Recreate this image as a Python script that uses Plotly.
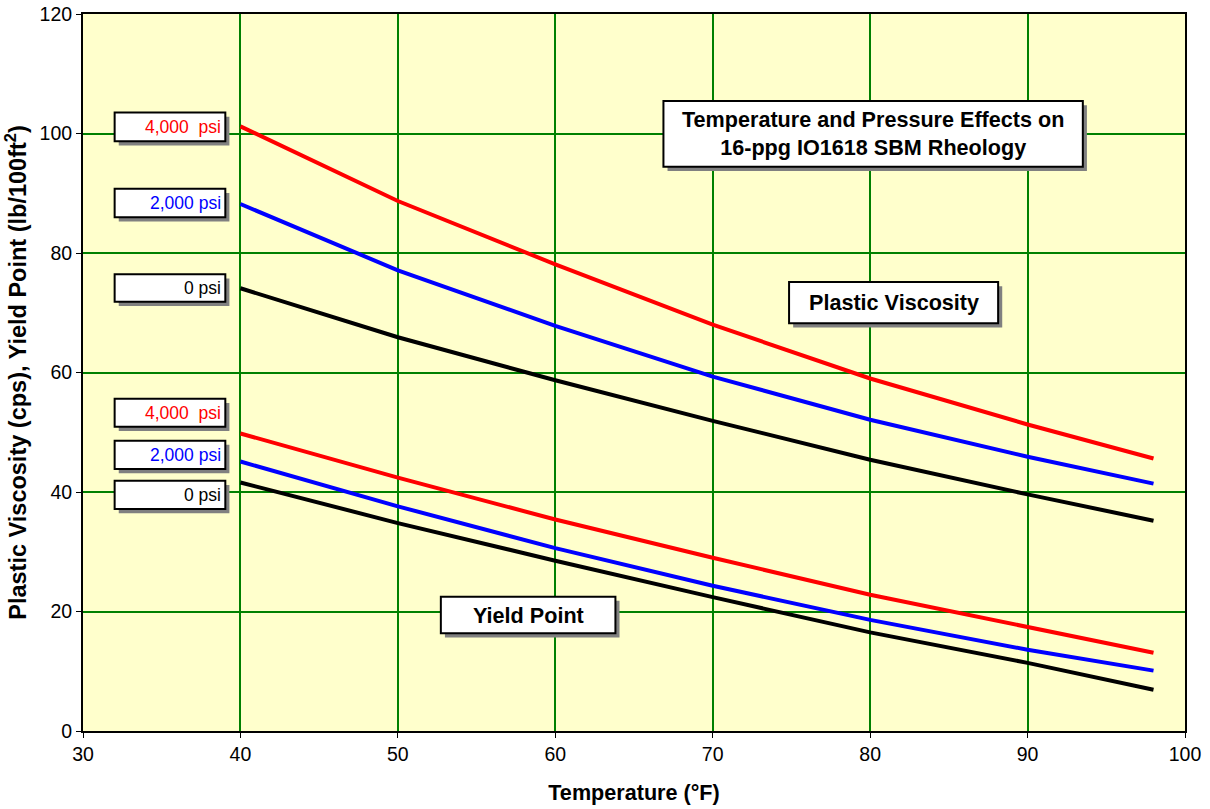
import plotly.graph_objects as go

# Temperature (°F) at which rheology was read
temperature_f = [40, 50, 60, 70, 80, 90, 98]

# Plastic viscosity (cps) at three pressures
pv_0psi = [74.1, 65.9, 58.7, 51.9, 45.4, 39.6, 35.2]
pv_2000psi = [88.2, 77.1, 67.8, 59.3, 52.1, 45.9, 41.4]
pv_4000psi = [101.2, 88.7, 78.1, 68.0, 59.0, 51.3, 45.6]

# Yield point (lb/100ft²) at three pressures
yp_0psi = [41.6, 34.8, 28.5, 22.4, 16.5, 11.4, 6.9]
yp_2000psi = [45.1, 37.6, 30.6, 24.3, 18.6, 13.6, 10.1]
yp_4000psi = [49.8, 42.4, 35.4, 29.0, 22.8, 17.4, 13.1]

x_ticks = [30, 40, 50, 60, 70, 80, 90, 100]
y_ticks = [0, 20, 40, 60, 80, 100, 120]

FONT = "Liberation Sans, Arial, sans-serif"
NB = "\u00a0"

series = [
    ("PV 4,000 psi", pv_4000psi, "#FF0000"),
    ("PV 2,000 psi", pv_2000psi, "#0000FF"),
    ("PV 0 psi", pv_0psi, "#000000"),
    ("YP 4,000 psi", yp_4000psi, "#FF0000"),
    ("YP 2,000 psi", yp_2000psi, "#0000FF"),
    ("YP 0 psi", yp_0psi, "#000000"),
]

fig = go.Figure()
for name, vals, color in series:
    fig.add_trace(go.Scatter(
        x=temperature_f, y=vals, name=name, mode="lines",
        line=dict(color=color, width=4),
        showlegend=False, hoverinfo="x+y+name",
    ))

shapes = []
annotations = []

# Shadowed callout box helper (data coordinates)
SHX, SHY = 0.26, 0.7


def callout(x0, x1, y0, y1, text, color="#000000", size=17.5, bold=False,
            align="right"):
    shapes.append(dict(type="rect", xref="x", yref="y", layer="above",
                       x0=x0 + SHX, x1=x1 + SHX, y0=y0 - SHY, y1=y1 - SHY,
                       fillcolor="#808080", line=dict(width=0)))
    shapes.append(dict(type="rect", xref="x", yref="y", layer="above",
                       x0=x0, x1=x1, y0=y0, y1=y1,
                       fillcolor="#FFFFFF", line=dict(color="#000000", width=2)))
    if align == "right":
        ax, xanchor = x1 - 0.12, "right"
    else:
        ax, xanchor = (x0 + x1) / 2, "center"
    annotations.append(dict(
        x=ax, y=(y0 + y1) / 2, xref="x", yref="y", xanchor=xanchor,
        yanchor="middle", showarrow=False, text=text, align="center",
        font=dict(family=FONT, size=size, color=color,
                  weight="bold" if bold else "normal"),
    ))


# Pressure labels for the plastic viscosity curves
callout(32.01, 39.04, 98.7, 103.5, f"4,000{NB}{NB}psi", "#FF0000")
callout(32.01, 39.04, 85.97, 90.76, "2,000 psi", "#0000FF")
callout(32.01, 39.04, 71.85, 76.43, "0 psi", "#000000")
# Pressure labels for the yield point curves
callout(32.01, 39.04, 50.93, 55.61, f"4,000{NB}{NB}psi", "#FF0000")
callout(32.01, 39.04, 43.85, 48.59, "2,000 psi", "#0000FF")
callout(32.01, 39.04, 37.16, 41.89, "0 psi", "#000000")

# Chart title and group labels
callout(66.87, 93.51, 94.44, 105.44,
        "Temperature and Pressure Effects on<br>16-ppg IO1618 SBM Rheology",
        size=21.6, bold=True, align="center")
callout(74.85, 88.13, 68.23, 75.15, "Plastic Viscosity",
        size=21.6, bold=True, align="center")
callout(52.73, 63.82, 16.35, 22.48, "Yield Point",
        size=21.6, bold=True, align="center")

axis_common = dict(
    showline=True, linecolor="#000000", linewidth=2, mirror=True,
    ticks="outside", ticklen=5, tickwidth=1, tickcolor="#000000",
    showgrid=True, gridcolor="#008000", gridwidth=2, zeroline=False,
    tickfont=dict(family=FONT, size=19.5, color="#000000"),
    automargin=False,
)

fig.update_layout(
    width=1210, height=809,
    margin=dict(l=83, r=25, t=14, b=78),
    paper_bgcolor="#FFFFFF",
    plot_bgcolor="#FFFFCC",
    font=dict(family=FONT, color="#000000"),
    xaxis=dict(
        range=[30, 100], tickvals=x_ticks, ticktext=[str(v) for v in x_ticks],
        title=dict(text="Temperature (°F)", standoff=20,
                   font=dict(family=FONT, size=21.6, weight="bold")),
        **axis_common,
    ),
    yaxis=dict(
        range=[0, 120], tickvals=y_ticks, ticktext=[str(v) for v in y_ticks],
        title=dict(text="Plastic Viscosity (cps), Yield Point (lb/100ft<sup>2</sup>)",
                   standoff=6,
                   font=dict(family=FONT, size=23.5, weight="bold")),
        **axis_common,
    ),
    shapes=shapes,
    annotations=annotations,
)

fig.write_html("out.html")
